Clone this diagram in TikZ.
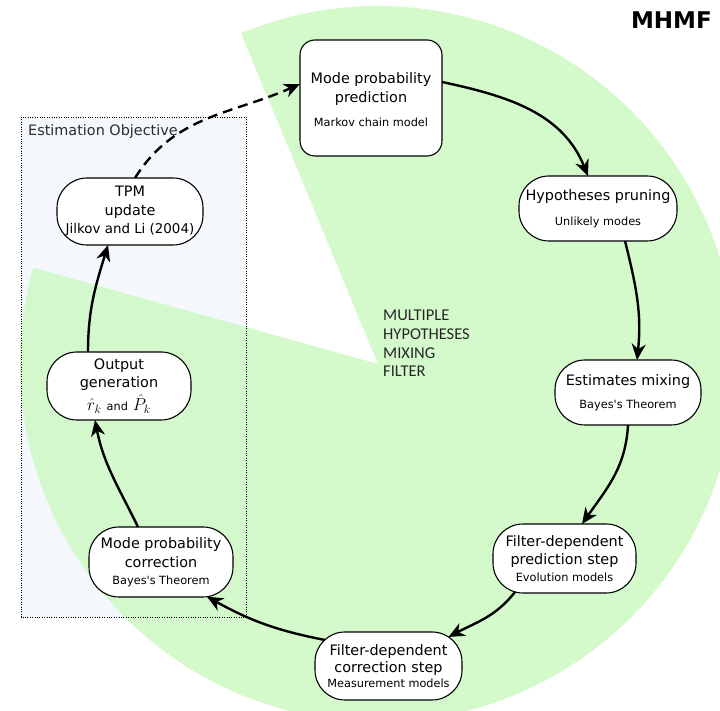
\documentclass[tikz,border=0pt]{standalone}
\usepackage{fontspec}
\setmainfont{DejaVu Sans}[Ligatures=TeXOff]
\newfontfamily\carlfont{Carlito}
\usetikzlibrary{arrows.meta,calc}
\definecolor{piegreen}{RGB}{207,249,198}
\definecolor{objfill}{RGB}{244,247,251}
\definecolor{objtext}{RGB}{45,45,45}
\newcommand\mainf{\fontsize{14.4}{18.5}\selectfont}
\newcommand\smallf{\fontsize{11.3}{13}\selectfont}
\newcommand\midf{\fontsize{13.4}{16}\selectfont}
\begin{document}
\begin{tikzpicture}[x=1pt,y=1pt,
  pill/.style={draw=black, line width=1.1pt, fill=white, rounded corners=30pt, align=center, inner sep=0pt, font=\mainf},
  squarebox/.style={draw=black, line width=1.1pt, fill=white, rounded corners=15pt, align=center, inner sep=0pt, font=\mainf, minimum width=142pt, minimum height=116pt},
  arr/.style={line width=2.4pt, -{Stealth[length=16pt,width=14pt,inset=5pt]}},
  dasharr/.style={arr, dash pattern=on 10pt off 6pt},
]
\useasboundingbox (0,0) rectangle (720,711);
\clip (0,0) rectangle (720,711);
\fill[objfill] (21,594) rectangle (246,94);
\fill[piegreen, opacity=0.9] (378,347) -- ++(164.4:358) arc[start angle=164.4, end angle=472.5, radius=358] -- cycle;
\draw[line width=0.8pt, dash pattern=on 1pt off 1.4pt] (21,594) rectangle (246,94);
\node[anchor=base west, inner sep=0pt, text=objtext, font=\mainf] (obj) at (28,575) {Estimation Objective};
\node[anchor=north west, inner sep=0pt, align=left, text=black!85, font=\carlfont\fontsize{16.5}{18.7}\selectfont] (mhtxt) at (383,401) {MULTIPLE\\HYPOTHESES\\MIXING\\FILTER};
\node[anchor=north east, inner sep=0pt, font=\bfseries\fontsize{23}{23}\selectfont] (title) at (712,699) {MHMF};

\node[squarebox] (n1) at (371,613) {\rule{0pt}{14pt}Mode probability\\prediction\\[5.5pt]{\smallf Markov chain model}};
\node[pill, minimum width=158pt, minimum height=65pt] (n2) at (598,502.5) {Hypotheses pruning\\[6.5pt]{\smallf Unlikely modes}};
\node[pill, minimum width=146pt, minimum height=65pt] (n3) at (628,318.5) {Estimates mixing\\[4.5pt]{\smallf Bayes's Theorem}};
\node[pill, minimum width=143pt, minimum height=69pt] (n4) at (564.5,152.5) {Filter-dependent\\prediction step\\[-1.5pt]{\smallf Evolution models}};
\node[pill, minimum width=147pt, minimum height=68pt] (n5) at (388.5,45) {Filter-dependent\\[-1.5pt]correction step\\[-3.5pt]{\smallf Measurement models}};
\node[pill, minimum width=144pt, minimum height=70pt] (n6) at (161,149) {Mode probability\\correction\\[-1.5pt]{\smallf Bayes's Theorem}};
\node[pill, minimum width=144pt, minimum height=68pt] (n7) at (119,325) {Output\\generation\\[3pt]{\fontsize{17}{17}\selectfont$\hat{r}_k$\hspace{5pt}{\smallf and}\hspace{5pt}$\hat{P}_k$}};
\node[pill, minimum width=146pt, minimum height=67pt] (n8) at (130,499.5) {TPM\\update\\{\midf Jilkov and Li (2004)}};

\draw[dasharr] ($(n8.center)+(5,33.5)$) to[out=58,in=204] ($(n1.center)+(-71,14)$);
\draw[arr] ($(n1.center)+(71,16)$) to[out=-12,in=112] ($(n2.center)+(-10,32.5)$);
\draw[arr] ($(n2.center)+(27,-32.5)$) to[out=-76,in=84] ($(n3.center)+(9,32.5)$);
\draw[arr] ($(n3.center)+(0,-32.5)$) to[out=-93,in=55] ($(n4.center)+(17.5,34.5)$);
\draw[arr] ($(n4.center)+(-49.5,-33.5)$) to[out=-128,in=28] ($(n5.center)+(60,29)$);
\draw[arr] ($(n5.center)+(-63.5,26)$) to[out=169,in=-29] ($(n6.center)+(46,-34.7)$);
\draw[arr] ($(n6.center)+(-23,35)$) to[out=116,in=-79] ($(n7.center)+(-24,-34)$);
\draw[arr] ($(n7.center)+(-31,34)$) to[out=90,in=-107] ($(n8.center)+(-22,-33.5)$);
\end{tikzpicture}
\end{document}
